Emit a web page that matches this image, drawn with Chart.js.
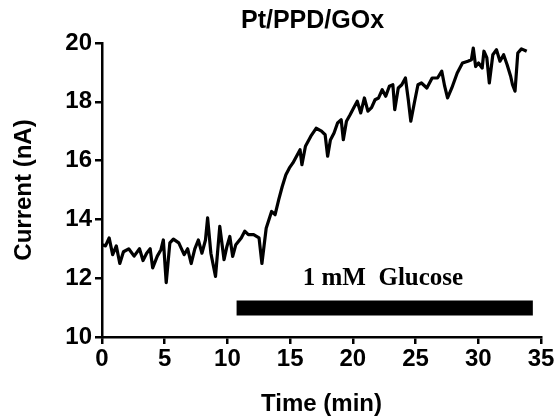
<!DOCTYPE html>
<html>
<head>
<meta charset="utf-8">
<script src="https://cdn.jsdelivr.net/npm/chart.js@4/dist/chart.umd.min.js"></script>
<style>
  html, body { margin: 0; padding: 0; background: #fff; }
  #wrap { width: 558px; height: 419px; }
</style>
</head>
<body>
<div id="wrap"><canvas id="chart" width="558" height="419"></canvas></div>
<script>
// ── DATA ──
const timeMin = [
  0.00, 0.28, 0.57, 0.85, 1.14, 1.42, 1.71, 2.13, 2.56, 2.99,
  3.27, 3.56, 3.84, 4.04, 4.41, 4.70, 4.89, 5.12, 5.41, 5.69,
  6.12, 6.55, 6.83, 7.11, 7.40, 7.68, 7.97, 8.25, 8.42, 8.68,
  9.05, 9.39, 9.73, 9.96, 10.19, 10.42, 10.67, 11.10, 11.38, 11.67,
  12.09, 12.52, 12.75, 13.09, 13.52, 13.80, 14.09, 14.37, 14.66, 14.94,
  15.22, 15.51, 15.79, 15.94, 16.22, 16.65, 17.07, 17.50, 17.79, 17.99,
  18.21, 18.50, 18.78, 19.07, 19.24, 19.49, 19.78, 20.06, 20.35, 20.63,
  20.92, 21.20, 21.49, 21.77, 22.05, 22.34, 22.62, 22.91, 23.19, 23.34,
  23.62, 23.90, 24.19, 24.42, 24.62, 24.90, 25.19, 25.47, 25.90, 26.32,
  26.75, 27.09, 27.32, 27.55, 27.89, 28.32, 28.74, 29.17, 29.45, 29.60,
  29.79, 30.02, 30.31, 30.45, 30.68, 30.88, 31.16, 31.45, 31.73, 32.02,
  32.30, 32.58, 32.73, 32.93, 33.15, 33.44, 33.86
];
const currentNA = [
  13.14, 13.10, 13.37, 12.80, 13.10, 12.50, 12.90, 13.00, 12.75, 13.00,
  12.60, 12.85, 13.00, 12.35, 12.75, 12.97, 13.30, 11.85, 13.20, 13.33,
  13.20, 12.80, 13.00, 12.50, 13.00, 13.30, 12.85, 13.30, 14.05, 12.85,
  12.06, 13.76, 12.63, 13.08, 13.42, 12.74, 13.14, 13.37, 13.60, 13.48,
  13.48, 13.37, 12.50, 13.70, 14.27, 14.16, 14.67, 15.12, 15.52, 15.75,
  15.92, 16.15, 16.37, 15.86, 16.49, 16.83, 17.10, 17.00, 16.88, 16.15,
  16.70, 16.94, 17.28, 17.39, 16.71, 17.34, 17.56, 17.79, 18.02, 17.62,
  18.13, 17.68, 17.80, 18.07, 18.13, 18.41, 18.19, 18.53, 18.58, 17.73,
  18.47, 18.58, 18.81, 18.07, 17.34, 17.96, 18.58, 18.64, 18.47, 18.81,
  18.81, 19.04, 18.53, 18.13, 18.47, 18.98, 19.32, 19.38, 19.43, 19.83,
  19.20, 19.32, 19.15, 19.72, 19.50, 18.64, 19.60, 19.77, 19.38, 19.60,
  19.26, 18.87, 18.58, 18.36, 19.66, 19.80, 19.72
];

// glucose injection bar (start / end time, level in nA)
const glucoseBarTime = [10.73, 34.35];
const glucoseBarLevel = [10.99, 10.99];
const glucoseLabel = '1 mM  Glucose';
const glucoseLabelAt = [22.4, 12.0];

const chartTitle = 'Pt/PPD/GOx';
const xTitle = 'Time (min)';
const yTitle = 'Current (nA)';
const xRange = [0, 35], xStep = 5;
const yRange = [10, 20], yStep = 2;

// ── PLUGIN: title over plot area + bar label ──
const annotations = {
  id: 'annotations',
  afterDraw(chart) {
    const { ctx, chartArea, scales } = chart;
    ctx.save();
    ctx.fillStyle = '#000';
    ctx.textAlign = 'center';
    ctx.textBaseline = 'middle';
    ctx.font = 'bold 25px "Liberation Sans", Arial, sans-serif';
    ctx.fillText(chartTitle, (chartArea.left + chartArea.right) / 2 - 9, 21);

    ctx.font = 'bold 25px "Liberation Serif", "Times New Roman", serif';
    ctx.fillText(glucoseLabel,
      scales.x.getPixelForValue(glucoseLabelAt[0]),
      scales.y.getPixelForValue(glucoseLabelAt[1]));
    ctx.restore();
  }
};

const boldFont = { family: '"Liberation Sans", Arial, sans-serif', size: 24, weight: 'bold' };

new Chart(document.getElementById('chart'), {
  type: 'line',
  data: {
    datasets: [
      {
        data: timeMin.map((t, i) => ({ x: t, y: currentNA[i] })),
        borderColor: '#000',
        borderWidth: 3.2,
        borderJoinStyle: 'round',
        pointRadius: 0,
        tension: 0,
        fill: false
      },
      {
        data: glucoseBarTime.map((t, i) => ({ x: t, y: glucoseBarLevel[i] })),
        borderColor: '#000',
        borderWidth: 15,
        borderCapStyle: 'butt',
        pointRadius: 0,
        fill: false
      }
    ]
  },
  options: {
    responsive: false,
    animation: false,
    layout: { padding: { left: 0, right: 17, top: 43, bottom: 0 } },
    plugins: {
      legend: { display: false },
      tooltip: { enabled: false },
      title: { display: false }
    },
    scales: {
      x: {
        type: 'linear',
        min: xRange[0],
        max: xRange[1],
        afterFit: s => { s.height = 82; },
        border: { display: true, color: '#000', width: 2.5 },
        grid: { display: true, drawOnChartArea: false, drawTicks: true, tickLength: 7, color: '#000', lineWidth: 2.5 },
        ticks: { stepSize: xStep, color: '#000', font: boldFont, padding: 1, maxRotation: 0 },
        title: { display: true, text: xTitle, color: '#000', font: boldFont, padding: { top: 10, bottom: 0 } }
      },
      y: {
        type: 'linear',
        min: yRange[0],
        max: yRange[1],
        afterFit: s => { s.width = 102; },
        border: { display: true, color: '#000', width: 2.5 },
        grid: { display: true, drawOnChartArea: false, drawTicks: true, tickLength: 7, color: '#000', lineWidth: 2.5 },
        ticks: { stepSize: yStep, color: '#000', font: boldFont, padding: 3 },
        title: { display: true, text: yTitle, color: '#000', font: boldFont, padding: { top: 10, bottom: 4 } }
      }
    }
  },
  plugins: [annotations]
});
</script>
</body>
</html>
